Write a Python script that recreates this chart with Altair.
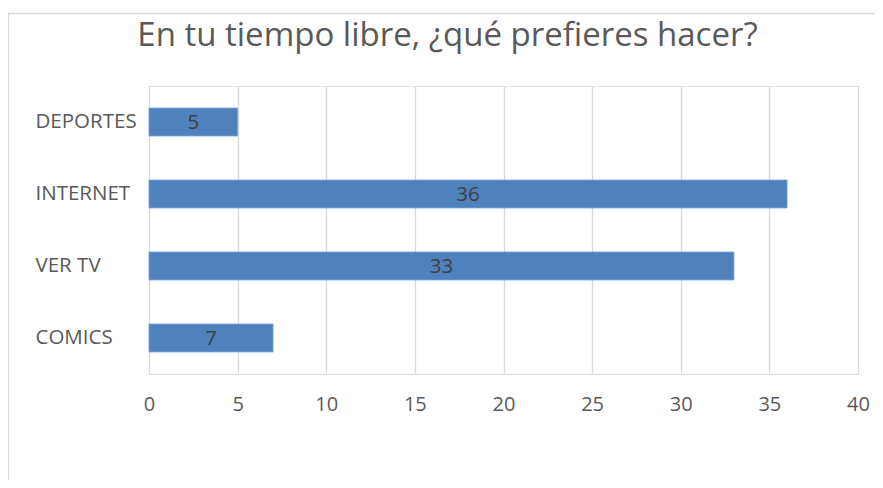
import altair as alt
import pandas as pd

categories = ["DEPORTES", "INTERNET", "VER TV", "COMICS"]
values = [5, 36, 33, 7]
x_ticks = [0, 5, 10, 15, 20, 25, 30, 35, 40]
title_text = "En tu tiempo libre, ¿qué prefieres hacer?"

df = pd.DataFrame({"cat": categories, "val": values})

FONT = "Open Sans"
W, H = 709, 288
PL, PT, PR, PB = 141, 78, 17, 106
GRAY = "#595959"

y_enc = alt.Y(
    "cat:N", sort=categories, title=None,
    scale=alt.Scale(paddingInner=0.611, paddingOuter=0.306),
    axis=alt.Axis(domain=False, ticks=False, tickSize=0, labelFontSize=20.5,
                  labelColor=GRAY, labelPadding=114, labelAlign="left",
                  labelFont=FONT, grid=False),
)
x_enc = alt.X(
    "val:Q", title=None,
    scale=alt.Scale(domain=[0, 40], nice=False),
    axis=alt.Axis(values=x_ticks, domain=False, ticks=False, tickSize=0, grid=True,
                  gridColor="#d9d9d9", gridWidth=1.3, labelFontSize=20, labelColor=GRAY,
                  labelPadding=20, labelFont=FONT, labelFlush=False),
)

base = alt.Chart(df)
bars = base.mark_bar(color="#4F81BD", stroke="#7da2d2", strokeWidth=0.8).encode(x=x_enc, y=y_enc)
labels = base.transform_calculate(mid="datum.val / 2").mark_text(
    font=FONT, fontSize=20.5, color="#404040", baseline="middle", align="center", dy=1
).encode(x=alt.X("mid:Q"), y=alt.Y("cat:N", sort=categories), text="val:Q")

left_border = base.transform_filter("datum.cat == 'DEPORTES'").mark_rule(color="#d9d9d9", strokeWidth=1.3).encode(
    x=alt.value(-140.5), y=alt.value(-73), y2=alt.value(H + PB)
)
top_border = base.transform_filter("datum.cat == 'DEPORTES'").mark_rule(color="#d9d9d9", strokeWidth=1.3).encode(
    x=alt.value(-141), x2=alt.value(W + PR), y=alt.value(-72.5)
)

chart = alt.layer(left_border, top_border, bars, labels).properties(
    width=W, height=H,
    title=alt.TitleParams(title_text, font=FONT, fontSize=33, fontWeight="normal",
                          color=GRAY, anchor="middle", frame="group", dx=-56,
                          baseline="alphabetic", offset=0, dy=67),
    autosize=alt.AutoSizeParams(type="none"),
    padding={"left": PL, "top": PT, "right": PR, "bottom": PB},
).configure_view(stroke=None).configure(background="white")

chart.save("out.html", embed_options={"renderer": "svg", "actions": False})
